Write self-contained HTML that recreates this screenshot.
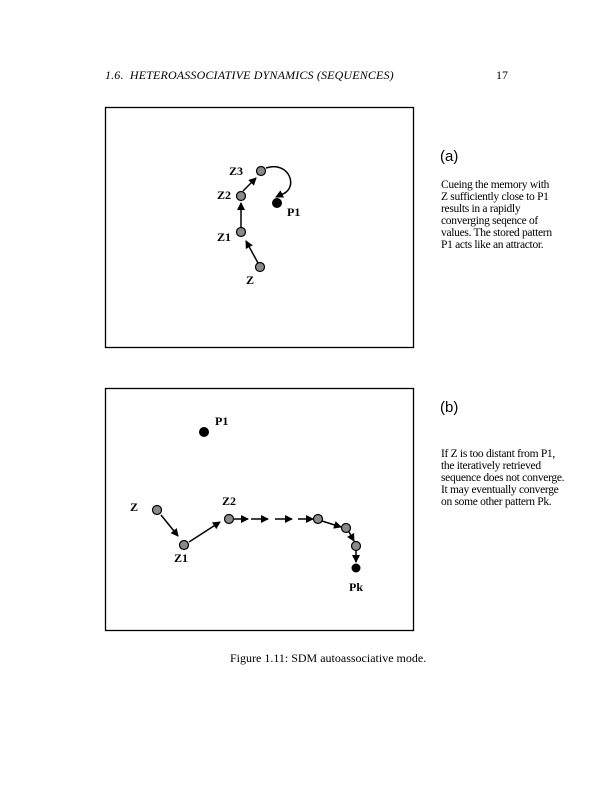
<!DOCTYPE html>
<html><head><style>
body{margin:0;width:612px;height:791px;background:#fff;position:relative;overflow:hidden;font-family:"Liberation Serif",serif;color:#000}
.t{position:absolute;white-space:nowrap}
.p{position:absolute;font-size:11.5px;line-height:12px;letter-spacing:-0.3px}
.h{position:absolute;font-family:"Liberation Sans",sans-serif;font-size:15px}
</style></head><body>
<div class="t" style="left:105px;top:68px;font-size:12px;font-style:italic;letter-spacing:0.15px">1.6.&nbsp; HETEROASSOCIATIVE DYNAMICS (SEQUENCES)</div>
<div class="t" style="left:496px;top:68px;font-size:12px">17</div>
<div class="h" style="left:440px;top:148px">(a)</div>
<div class="p" style="left:441px;top:179px">Cueing the memory with<br>Z sufficiently close to P1<br>results in a rapidly<br>converging seqence of<br>values. The stored pattern<br>P1 acts like an attractor.</div>
<div class="h" style="left:440px;top:399px">(b)</div>
<div class="p" style="left:441px;top:448px">If Z is too distant from P1,<br>the iteratively retrieved<br>sequence does not converge.<br>It may eventually converge<br>on some other pattern Pk.</div>
<div class="t" style="left:230px;top:651px;font-size:12px">Figure 1.11: SDM autoassociative mode.</div>
<svg width="612" height="791" style="position:absolute;left:0;top:0">
<defs>
<marker id="a" markerWidth="8" markerHeight="8" refX="7" refY="4" orient="auto" markerUnits="userSpaceOnUse"><path d="M0,0L8,4L0,8z"/></marker>
</defs>
<g fill="none" stroke="#000" stroke-width="1.3">
<rect x="105.5" y="107.5" width="308" height="240"/>
<rect x="105.5" y="388.5" width="308" height="242"/>
</g>
<g stroke="#000" stroke-width="1.5" fill="none" marker-end="url(#a)">
<line x1="258" y1="263" x2="246" y2="241"/>
<line x1="241" y1="227" x2="241" y2="203"/>
<line x1="243" y1="191" x2="256" y2="178"/>
<path d="M266,168 C290,160 300,190 280,195 L276,197"/>
<line x1="161" y1="515" x2="178" y2="536"/>
<line x1="189" y1="542" x2="220" y2="522"/>
<line x1="234" y1="519" x2="248" y2="519"/>
<line x1="251" y1="519" x2="268" y2="519"/>
<line x1="275" y1="519" x2="292" y2="519"/>
<line x1="298" y1="519" x2="313" y2="519"/>
<line x1="322" y1="521" x2="341" y2="527"/>
<line x1="349" y1="532" x2="354" y2="541"/>
<line x1="356" y1="550" x2="356" y2="562"/>
</g>
<g fill="#8a8a8a" stroke="#000" stroke-width="1.2">
<circle cx="261" cy="171" r="4.5"/><circle cx="241" cy="196" r="4.5"/><circle cx="241" cy="232" r="4.5"/><circle cx="260" cy="267" r="4.5"/>
<circle cx="157" cy="510" r="4.5"/><circle cx="184" cy="545" r="4.5"/><circle cx="229" cy="519" r="4.5"/><circle cx="318" cy="519" r="4.5"/><circle cx="346" cy="528" r="4.5"/><circle cx="356" cy="546" r="4.5"/>
</g>
<circle cx="277" cy="203" r="5" fill="#000"/>
<circle cx="204" cy="432" r="5" fill="#000"/>
<circle cx="356" cy="568" r="4.5" fill="#000"/>
<g font-family="Liberation Serif" font-size="12" font-weight="bold">
<text x="229" y="175">Z3</text><text x="217" y="199">Z2</text><text x="217" y="241">Z1</text><text x="246" y="284">Z</text><text x="287" y="216">P1</text>
<text x="215" y="425">P1</text><text x="130" y="511">Z</text><text x="222" y="505">Z2</text><text x="174" y="562">Z1</text><text x="349" y="591">Pk</text>
</g>
</svg>
</body></html>
